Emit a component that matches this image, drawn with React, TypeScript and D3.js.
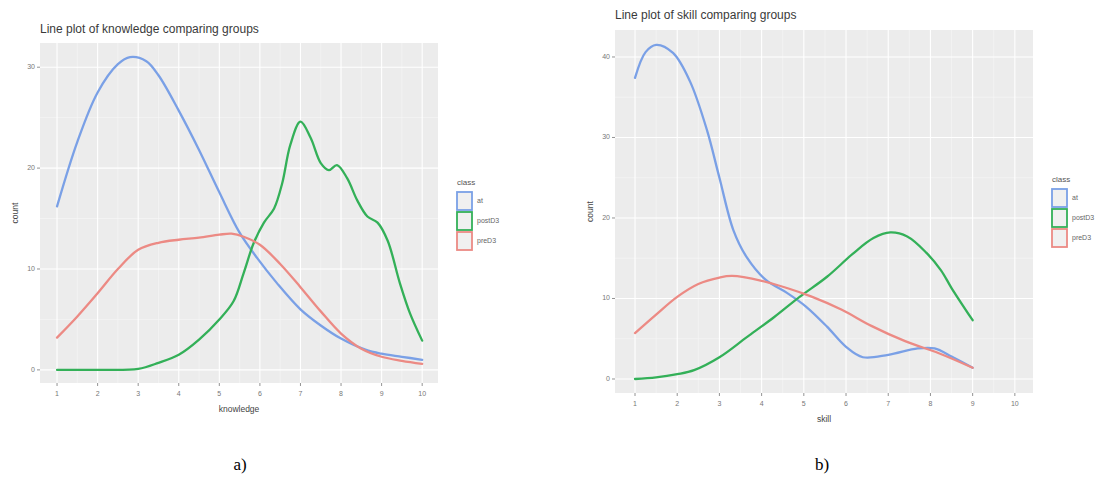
import React from "react";
import * as d3 from "d3";

// ---- Data ----
const xTicks = [1, 2, 3, 4, 5, 6, 7, 8, 9, 10];
const knowledgeYTicks = [0, 10, 20, 30];
const skillYTicks = [0, 10, 20, 30, 40];
const classes = ["at", "postD3", "preD3"];
const classColors = ["#7aa0e6", "#33b058", "#ec8a84"];

const knowAtX = [1, 1.5, 2, 2.5, 2.8, 3.2, 3.5, 4, 4.5, 5, 5.5, 5.93, 6.42, 7, 7.5, 8, 8.6, 9, 9.5, 10];
const knowAtY = [16.2, 22.6, 27.5, 30.3, 31, 30.6, 29.2, 25.7, 21.8, 17.6, 13.6, 11.1, 8.6, 6.0, 4.4, 3.1, 2.0, 1.6, 1.3, 1.0];
const knowPostX = [1, 2, 3, 3.5, 4, 4.5, 5, 5.35, 5.6, 5.85, 6.1, 6.35, 6.55, 6.75, 7.0, 7.25, 7.5, 7.7, 7.9, 8.15, 8.4, 8.65, 8.9, 9.15, 9.45, 9.7, 10];
const knowPostY = [0, 0, 0.1, 0.7, 1.5, 3, 5, 6.8, 9.6, 12.6, 14.6, 16.0, 18.5, 22.3, 24.6, 23, 20.5, 19.8, 20.3, 19, 16.8, 15.2, 14.6, 12.8, 8.6, 5.6, 2.9];
const knowPreX = [1, 1.5, 2, 2.5, 3, 3.5, 4, 4.5, 5, 5.3, 5.6, 6, 6.5, 7, 7.5, 8, 8.5, 9, 9.5, 10];
const knowPreY = [3.2, 5.3, 7.6, 10, 11.9, 12.6, 12.9, 13.1, 13.4, 13.5, 13.2, 12.4, 10.5, 8.2, 5.8, 3.6, 2.1, 1.3, 0.9, 0.6];

const skillAtX = [1, 1.25, 1.5, 1.9, 2.3, 2.7, 3.0, 3.33, 3.65, 4.1, 4.6, 5.05, 5.55, 6.0, 6.4, 7, 7.7, 8.1, 8.5, 9];
const skillAtY = [37.4, 40.6, 41.5, 40.5, 37, 31, 25, 18.5, 15.1, 12.3, 10.7, 9, 6.5, 4, 2.7, 3, 3.8, 3.8, 2.8, 1.4];
const skillPostX = [1, 1.5, 2, 2.4, 3, 3.65, 4.3, 4.9, 5.55, 6.15, 6.65, 7.05, 7.45, 7.9, 8.25, 8.5, 9];
const skillPostY = [0, 0.2, 0.6, 1.1, 2.7, 5.2, 7.7, 10.2, 12.7, 15.5, 17.5, 18.2, 17.7, 15.7, 13.5, 11.3, 7.3];
const skillPreX = [1, 1.5, 2, 2.5, 3, 3.3, 4, 4.6, 5.2, 5.9, 6.6, 7.4, 8.2, 9];
const skillPreY = [5.7, 8, 10.2, 11.8, 12.6, 12.8, 12.2, 11.3, 10.2, 8.6, 6.6, 4.7, 3.2, 1.4];

const zip = (xs: number[], ys: number[]) => xs.map((x, i) => [x, ys[i]] as [number, number]);

const knowledgeSeries = [zip(knowAtX, knowAtY), zip(knowPostX, knowPostY), zip(knowPreX, knowPreY)];
const skillSeries = [zip(skillAtX, skillAtY), zip(skillPostX, skillPostY), zip(skillPreX, skillPreY)];

const FONT = "'Liberation Sans', Arial, sans-serif";

type PanelProps = {
  title: string;
  xLabel: string;
  series: [number, number][][];
  yTicks: number[];
  x0: number; x1: number; y0: number; y1: number;
  xDomain: [number, number];
  yDomain: [number, number];
  titleY: number;
  legendX: number;
  legendY: number;
};

function Panel(p: PanelProps) {
  const x = d3.scaleLinear().domain(p.xDomain).range([p.x0, p.x1]);
  const y = d3.scaleLinear().domain(p.yDomain).range([p.y1, p.y0]);
  const line = d3.line<[number, number]>().x(d => x(d[0])).y(d => y(d[1])).curve(d3.curveCatmullRom.alpha(0.5));
  const minorX = xTicks.slice(0, -1).map(v => v + 0.5);
  const minorY = p.yTicks.map(v => v + 5).filter(v => v < p.yDomain[1]);
  const cx = (p.x0 + p.x1) / 2;
  const cy = (p.y0 + p.y1) / 2;
  return (
    <g>
      <text x={p.x0} y={p.titleY} fontSize={12} fill="#3a3a3a" fontFamily={FONT} dominantBaseline="middle">{p.title}</text>
      <rect x={p.x0} y={p.y0} width={p.x1 - p.x0} height={p.y1 - p.y0} fill="#ececec" />
      {minorX.map(v => <line key={"mx" + v} x1={x(v)} x2={x(v)} y1={p.y0} y2={p.y1} stroke="#f6f6f6" strokeWidth={0.6} />)}
      {minorY.map(v => <line key={"my" + v} y1={y(v)} y2={y(v)} x1={p.x0} x2={p.x1} stroke="#f6f6f6" strokeWidth={0.6} />)}
      {xTicks.map(v => <line key={"gx" + v} x1={x(v)} x2={x(v)} y1={p.y0} y2={p.y1} stroke="#ffffff" strokeWidth={1.1} />)}
      {p.yTicks.map(v => <line key={"gy" + v} y1={y(v)} y2={y(v)} x1={p.x0} x2={p.x1} stroke="#ffffff" strokeWidth={1.1} />)}
      {p.series.map((s, i) => (
        <path key={"s" + i} d={line(s) || ""} fill="none" stroke={classColors[i]} strokeWidth={2.3} strokeLinejoin="round" strokeLinecap="round" />
      ))}
      {xTicks.map(v => (
        <g key={"tx" + v}>
          <line x1={x(v)} x2={x(v)} y1={p.y1} y2={p.y1 + 3} stroke="#777" strokeWidth={0.8} />
          <text x={x(v)} y={p.y1 + 11} fontSize={7} fill="#777" fontFamily={FONT} textAnchor="middle" dominantBaseline="middle">{v}</text>
        </g>
      ))}
      {p.yTicks.map(v => (
        <g key={"ty" + v}>
          <line x1={p.x0 - 3} x2={p.x0} y1={y(v)} y2={y(v)} stroke="#777" strokeWidth={0.8} />
          <text x={p.x0 - 5} y={y(v)} fontSize={7} fill="#777" fontFamily={FONT} textAnchor="end" dominantBaseline="middle">{v}</text>
        </g>
      ))}
      <text x={cx} y={p.y1 + 27} fontSize={8.5} fill="#444" fontFamily={FONT} textAnchor="middle" dominantBaseline="middle">{p.xLabel}</text>
      <text transform={`translate(${p.x0 - 24},${cy}) rotate(-90)`} fontSize={8.5} fill="#444" fontFamily={FONT} textAnchor="middle" dominantBaseline="middle">count</text>
      <text x={p.legendX} y={p.legendY} fontSize={8} fill="#555" fontFamily={FONT} dominantBaseline="middle">class</text>
      {classes.map((c, i) => (
        <g key={"lg" + c}>
          <rect x={p.legendX} y={p.legendY + 9 + i * 20} width={15} height={18} fill="#f0f0f0" stroke={classColors[i]} strokeWidth={1.8} />
          <text x={p.legendX + 20} y={p.legendY + 18 + i * 20} fontSize={7} fill="#666" fontFamily={FONT} dominantBaseline="middle">{c}</text>
        </g>
      ))}
    </g>
  );
}

export default function App() {
  return (
    <svg width={1102} height={490} style={{ position: "absolute", left: 0, top: 0, background: "#ffffff" }}>
      <rect x={0} y={0} width={1102} height={490} fill="#ffffff" />
      <Panel
        title="Line plot of knowledge comparing groups"
        xLabel="knowledge"
        series={knowledgeSeries}
        yTicks={knowledgeYTicks}
        x0={40} x1={438} y0={43} y1={383}
        xDomain={[0.58, 10.39]}
        yDomain={[-1.3, 32.4]}
        titleY={30}
        legendX={457}
        legendY={183}
      />
      <Panel
        title="Line plot of skill comparing groups"
        xLabel="skill"
        series={skillSeries}
        yTicks={skillYTicks}
        x0={615} x1={1033} y0={30} y1={393}
        xDomain={[0.526, 10.43]}
        yDomain={[-1.74, 43.35]}
        titleY={16}
        legendX={1052}
        legendY={180}
      />
      <text x={240} y={466} fontSize={17} fontFamily="'Liberation Serif', 'Times New Roman', serif" fill="#000" textAnchor="middle" dominantBaseline="middle">a)</text>
      <text x={822} y={466} fontSize={17} fontFamily="'Liberation Serif', 'Times New Roman', serif" fill="#000" textAnchor="middle" dominantBaseline="middle">b)</text>
    </svg>
  );
}
